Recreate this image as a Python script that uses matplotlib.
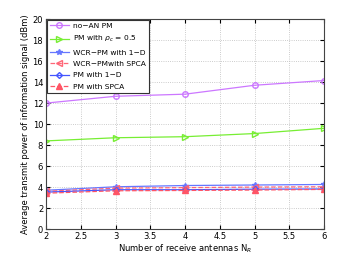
import matplotlib
matplotlib.use('Agg')
import matplotlib.pyplot as plt

# data
n_r = [2, 3, 4, 5, 6]
no_an_pm = [12.0, 12.65, 12.85, 13.7, 14.15]
pm_rho = [8.4, 8.7, 8.8, 9.1, 9.6]
wcr_pm_1d = [3.7, 4.03, 4.15, 4.2, 4.25]
wcr_pm_spca = [3.6, 3.9, 3.95, 4.0, 4.03]
pm_1d = [3.52, 3.75, 3.75, 3.8, 3.82]
pm_spca = [3.42, 3.65, 3.68, 3.72, 3.78]

x_ticks = [2, 2.5, 3, 3.5, 4, 4.5, 5, 5.5, 6]
y_ticks = list(range(0, 21, 2))

plt.rcParams['font.family'] = 'DejaVu Sans'
fig = plt.figure(figsize=(3.59, 2.58), dpi=100)
ax = fig.add_axes([0.128, 0.112, 0.775, 0.814])

ax.plot(n_r, no_an_pm, color='#cc77ff', marker='o', mfc='none', ms=4, lw=0.9,
        label='no\u2212AN PM')
ax.plot(n_r, pm_rho, color='#77ee33', marker='>', mfc='none', ms=4, lw=0.9,
        label=r'PM with $\rho_c$ = 0.5')
ax.plot(n_r, wcr_pm_1d, color='#6677ff', marker='*', ms=4, lw=0.9,
        label='WCR\u2212PM with 1\u2212D')
ax.plot(n_r, wcr_pm_spca, color='#ff6677', marker='<', mfc='none', ms=4, lw=0.9,
        ls='--', label='WCR\u2212PMwith SPCA')
ax.plot(n_r, pm_1d, color='#4455ff', marker='D', mfc='none', ms=3, lw=0.9,
        label='PM with 1\u2212D')
ax.plot(n_r, pm_spca, color='#ff5566', marker='^', ms=4, lw=0.9, ls='--',
        label='PM with SPCA')

ax.set_xlim(2, 6)
ax.set_ylim(0, 20)
ax.set_xticks(x_ticks)
ax.set_xticklabels(['2', '2.5', '3', '3.5', '4', '4.5', '5', '5.5', '6'])
ax.set_yticks(y_ticks)
ax.tick_params(direction='in', labelsize=6, length=3, top=True, right=True, pad=2)
ax.grid(True, ls=':', lw=0.6, color='#bbbbbb')
for s in ax.spines.values():
    s.set_linewidth(0.8)
    s.set_color('#444444')

ax.set_xlabel('Number of receive antennas N$_R$', fontsize=6, labelpad=1)
ax.set_ylabel('Average transmit power of information signal (dBm)', fontsize=6,
              labelpad=2)

leg = ax.legend(loc='upper left', fontsize=5.4, frameon=True, fancybox=False,
                borderaxespad=0.1, handlelength=2.6, handletextpad=0.5,
                labelspacing=0.68, borderpad=0.4)
leg.get_frame().set_edgecolor('#333333')
leg.get_frame().set_linewidth(0.8)
leg.get_frame().set_alpha(1)

plt.savefig('out.png', dpi=100)
